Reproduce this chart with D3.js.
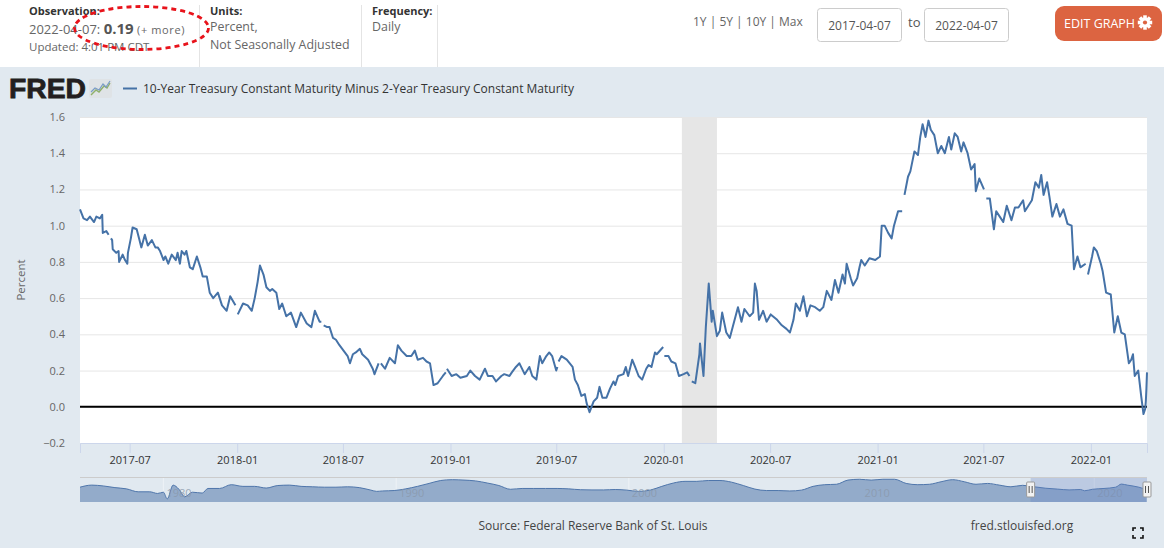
<!DOCTYPE html>
<html>
<head>
<meta charset="utf-8">
<script src="https://cdn.jsdelivr.net/npm/d3@7"></script>
<style>
body { margin: 0; background: #e1e9f0; }
svg { display: block; font-family: "Open Sans", sans-serif; }
</style>
</head>
<body>
<script>
// daily series, read off the chart roughly once a week (null = market holiday gap)
const obsDates = [
"2017-04-07","2017-04-13","2017-04-19","2017-04-24",
"2017-05-01","2017-05-05","2017-05-11","2017-05-15","2017-05-16","2017-05-22","2017-05-26","2017-05-29","2017-05-30",
"2017-06-01","2017-06-02","2017-06-08","2017-06-12","2017-06-13","2017-06-19","2017-06-23","2017-06-27","2017-06-28",
"2017-07-03","2017-07-06","2017-07-13","2017-07-17","2017-07-21","2017-07-27",
"2017-08-01","2017-08-08","2017-08-14","2017-08-18","2017-08-22","2017-08-28","2017-08-31",
"2017-09-05","2017-09-11","2017-09-18","2017-09-21","2017-09-25","2017-09-28",
"2017-10-03","2017-10-06","2017-10-12","2017-10-17","2017-10-24","2017-10-30",
"2017-11-03","2017-11-10","2017-11-15","2017-11-21","2017-11-29",
"2017-12-06","2017-12-14","2017-12-20","2017-12-29",
"2018-01-01","2018-01-02","2018-01-11","2018-01-19","2018-01-26","2018-01-31",
"2018-02-05","2018-02-09","2018-02-15","2018-02-20","2018-02-26",
"2018-03-02","2018-03-09","2018-03-14","2018-03-19","2018-03-26",
"2018-04-03","2018-04-12","2018-04-20","2018-04-30",
"2018-05-08","2018-05-14","2018-05-22","2018-05-25","2018-05-28","2018-05-29",
"2018-06-04","2018-06-08","2018-06-14","2018-06-19","2018-06-25",
"2018-07-02","2018-07-09","2018-07-13","2018-07-18","2018-07-23","2018-07-30",
"2018-08-03","2018-08-13","2018-08-21","2018-08-24","2018-08-31",
"2018-09-03","2018-09-04","2018-09-11","2018-09-19","2018-09-28",
"2018-10-03","2018-10-09","2018-10-18","2018-10-26",
"2018-11-01","2018-11-06","2018-11-15","2018-11-21","2018-11-27",
"2018-12-03","2018-12-10","2018-12-19","2018-12-24","2018-12-25","2018-12-26",
"2019-01-03","2019-01-11","2019-01-18","2019-01-29",
"2019-02-04","2019-02-12","2019-02-20",
"2019-03-01","2019-03-06","2019-03-14","2019-03-20","2019-03-29",
"2019-04-03","2019-04-12","2019-04-16","2019-04-23","2019-04-29",
"2019-05-08","2019-05-16","2019-05-21","2019-05-28",
"2019-06-03","2019-06-07","2019-06-14","2019-06-19","2019-06-24",
"2019-07-01","2019-07-03","2019-07-04","2019-07-05","2019-07-10","2019-07-19","2019-07-29",
"2019-08-02","2019-08-07","2019-08-13","2019-08-19","2019-08-22","2019-08-27",
"2019-09-03","2019-09-09","2019-09-13","2019-09-18","2019-09-25",
"2019-10-01","2019-10-07","2019-10-10","2019-10-15","2019-10-24","2019-10-28",
"2019-11-01","2019-11-08","2019-11-13","2019-11-19","2019-11-25",
"2019-12-02","2019-12-06","2019-12-11","2019-12-17","2019-12-20","2019-12-31",
"2020-01-01","2020-01-02","2020-01-09","2020-01-14","2020-01-21","2020-01-27",
"2020-02-04","2020-02-10","2020-02-14","2020-02-17","2020-02-18","2020-02-24",
"2020-03-02","2020-03-03","2020-03-09","2020-03-13","2020-03-18","2020-03-23","2020-03-25",
"2020-04-01","2020-04-06","2020-04-10","2020-04-17","2020-04-23","2020-04-28",
"2020-05-07","2020-05-13","2020-05-18","2020-05-27",
"2020-06-02","2020-06-05","2020-06-08","2020-06-12","2020-06-19","2020-06-25",
"2020-07-02","2020-07-13","2020-07-21","2020-07-29",
"2020-08-04","2020-08-10","2020-08-14","2020-08-21","2020-08-27",
"2020-09-02","2020-09-08","2020-09-16","2020-09-24","2020-09-30",
"2020-10-06","2020-10-14","2020-10-20","2020-10-26",
"2020-11-02","2020-11-06","2020-11-09","2020-11-16","2020-11-20","2020-11-27",
"2020-12-01","2020-12-04","2020-12-10","2020-12-18","2020-12-28",
"2021-01-05","2021-01-08","2021-01-13","2021-01-19","2021-01-25","2021-01-29",
"2021-02-05","2021-02-12","2021-02-15","2021-02-16","2021-02-22","2021-02-26",
"2021-03-05","2021-03-11","2021-03-15","2021-03-19","2021-03-24","2021-03-29",
"2021-04-02","2021-04-08","2021-04-14","2021-04-20","2021-04-26",
"2021-05-03","2021-05-07","2021-05-13","2021-05-18","2021-05-24","2021-05-28",
"2021-06-04","2021-06-10","2021-06-16","2021-06-18","2021-06-24","2021-07-02",
"2021-07-05","2021-07-06","2021-07-12","2021-07-19","2021-07-23","2021-07-29",
"2021-08-04","2021-08-10","2021-08-18","2021-08-24","2021-08-30",
"2021-09-07","2021-09-10","2021-09-16","2021-09-22","2021-09-28",
"2021-10-04","2021-10-08","2021-10-12","2021-10-18","2021-10-22","2021-10-27",
"2021-11-03","2021-11-09","2021-11-15","2021-11-22","2021-11-29",
"2021-12-03","2021-12-09","2021-12-14","2021-12-23","2021-12-24","2021-12-27",
"2022-01-03","2022-01-06","2022-01-11","2022-01-18","2022-01-21","2022-01-27",
"2022-02-04","2022-02-10","2022-02-16","2022-02-22","2022-02-28",
"2022-03-07","2022-03-11","2022-03-14","2022-03-17","2022-03-23","2022-03-28",
"2022-04-01","2022-04-04","2022-04-05","2022-04-06","2022-04-07"
]
const spread = [
1.09,1.04,1.03,1.05,
1.02,1.05,1.04,1.06,0.96,0.97,0.95,null,0.93,
0.92,0.87,0.85,0.86,0.80,0.84,0.81,0.79,0.85,
0.93,0.99,0.98,0.93,0.88,0.95,
0.89,0.92,0.88,0.88,0.86,0.81,0.83,
0.79,0.84,0.81,0.85,0.79,0.86,
0.84,0.86,0.77,0.76,0.83,0.77,
0.72,0.72,0.63,0.60,0.63,
0.56,0.53,0.61,0.56,
null,0.51,0.57,0.56,0.53,0.60,
0.69,0.78,0.73,0.66,0.64,
0.65,0.63,0.54,0.57,0.50,
0.52,0.44,0.52,0.46,
0.44,0.53,0.47,0.47,null,0.45,
0.44,0.44,0.38,0.37,0.34,
0.31,0.28,0.24,0.29,0.30,0.32,
0.29,0.26,0.21,0.18,0.24,
null,0.24,0.21,0.27,0.24,
0.34,0.31,0.28,0.28,
0.31,0.26,0.27,0.25,0.24,
0.12,0.13,0.17,0.19,null,0.21,
0.17,0.18,0.16,0.17,
0.20,0.17,0.15,
0.21,0.17,0.17,0.14,0.17,
0.18,0.17,0.19,0.22,0.24,
0.18,0.22,0.17,0.15,
0.28,0.24,0.28,0.30,0.28,
0.20,0.22,null,0.25,0.28,0.26,0.22,
0.15,0.12,0.06,0.07,0.02,-0.03,
0.03,0.05,0.11,0.05,0.05,
0.10,0.14,0.12,0.17,0.18,0.22,
0.17,0.26,0.22,0.17,0.15,
0.21,0.23,0.22,0.30,0.29,0.33,
null,0.28,0.28,0.25,0.24,0.17,
0.18,0.19,0.17,null,0.14,0.13,
0.29,0.35,0.17,0.44,0.68,0.47,0.53,
0.39,0.42,0.52,0.41,0.38,0.44,
0.55,0.47,0.54,0.50,
0.52,0.68,0.64,0.48,0.53,0.47,
0.51,0.48,0.45,0.43,
0.41,0.48,0.57,0.53,0.61,
0.50,0.56,0.55,0.53,0.55,
0.64,0.59,0.70,0.63,
0.73,0.68,0.79,0.71,0.67,0.71,
0.77,0.81,0.78,0.82,0.81,
0.83,1.00,1.00,0.96,0.93,1.00,
1.08,1.08,null,1.17,1.27,1.30,
1.41,1.39,1.49,1.56,1.49,1.58,
1.53,1.50,1.40,1.44,1.40,
1.49,1.42,1.51,1.49,1.41,1.46,
1.40,1.31,1.34,1.19,1.26,1.20,
null,1.15,1.15,0.98,1.08,1.05,
1.02,1.11,1.03,1.10,1.10,
1.14,1.08,1.11,1.14,1.24,
1.21,1.28,1.17,1.24,1.16,1.05,
1.12,1.05,1.09,1.01,1.00,
0.76,0.83,0.77,0.79,null,0.73,
0.83,0.88,0.86,0.79,0.75,0.63,
0.62,0.41,0.50,0.41,0.40,
0.24,0.26,0.29,0.17,0.20,0.06,
-0.04,-0.01,0.03,0.10,0.19
]

const xTicks = ["2017-07","2018-01","2018-07","2019-01","2019-07","2020-01","2020-07","2021-01","2021-07","2022-01"]
const yTicks = [-0.2, 0.0, 0.2, 0.4, 0.6, 0.8, 1.0, 1.2, 1.4, 1.6]
const recession = ["2020-02-01", "2020-04-01"]
const range = ["2017-04-07", "2022-04-07"]

// navigator: full history of the series, coarse
const navDates = [
"1976-06","1976-12","1977-06","1977-12","1978-06","1978-12","1979-06","1979-10","1980-01","1980-03","1980-06","1980-09","1980-12",
"1981-04","1981-09","1981-12","1982-06","1982-12","1983-06","1983-12","1984-06","1984-12","1985-06","1985-12",
"1986-06","1986-12","1987-06","1987-12","1988-06","1988-12","1989-03","1989-06","1989-12",
"1990-06","1990-12","1991-06","1991-12","1992-06","1992-12","1993-06","1993-12","1994-06","1994-12",
"1995-06","1995-12","1996-06","1996-12","1997-06","1997-12","1998-06","1998-12","1999-06","1999-12",
"2000-06","2000-12","2001-06","2001-12","2002-06","2002-12","2003-06","2003-12","2004-06","2004-12",
"2005-06","2005-12","2006-06","2006-12","2007-06","2007-12","2008-06","2008-12","2009-06","2009-12",
"2010-06","2010-12","2011-06","2011-12","2012-06","2012-12","2013-06","2013-12","2014-06","2014-12",
"2015-06","2015-12","2016-06","2016-12","2017-06","2017-12","2018-06","2018-12","2019-06","2019-08","2019-12",
"2020-06","2020-12","2021-03","2021-06","2021-12","2022-04"
]
const navSpread = [
0.80,1.30,1.10,0.70,0.40,-0.30,-0.30,-0.70,-0.40,-2.00,1.30,0.30,-1.50,
-0.40,-0.60,0.50,0.50,1.40,1.00,1.00,0.60,1.20,1.30,1.00,
0.90,0.80,0.80,0.90,0.70,0.10,-0.20,-0.10,0.00,
0.40,1.00,1.70,2.40,2.60,2.50,2.30,1.80,1.20,0.30,
0.50,0.50,0.50,0.50,0.40,0.20,0.15,0.15,0.25,0.10,
-0.20,0.10,1.00,1.80,2.20,2.20,2.40,2.40,2.00,1.20,
0.35,0.00,0.00,-0.10,0.10,1.00,1.40,1.50,2.50,2.70,
2.50,2.70,2.70,1.70,1.40,1.50,2.10,2.60,2.10,1.50,
1.70,1.30,0.90,1.25,0.90,0.55,0.35,0.15,0.25,-0.05,0.30,
0.50,0.80,1.55,1.30,0.80,0.19
]
const navYears = ["1980", "1990", "2000", "2010", "2020"]

let W = 1164, H = 548
let plot = { left: 80, right: 1147, top: 117, bottom: 443 }
let nav = { top: 477, bottom: 502 }
let blue = "#4572a7"

let parseDay = d3.timeParse("%Y-%m-%d"),
parseMonth = d3.timeParse("%Y-%m"),
parseYear = d3.timeParse("%Y")

let svg = d3.select("body").append("svg")
    .attr("width", W)
    .attr("height", H)

// header strip
svg.append("rect").attr("width", W).attr("height", 67).attr("fill", "#fff")
svg.append("rect").attr("y", 67).attr("width", W).attr("height", H - 67).attr("fill", "#e1e9f0")

let head = svg.append("g").attr("fill", "#666").style("font-size", "13px")
;[199.5, 361.5, 437.5].forEach(function (x) {
    head.append("line").attr("x1", x).attr("x2", x).attr("y1", 5).attr("y2", 67)
        .attr("stroke", "#e4e4e4")
})
head.append("text").attr("x", 29).attr("y", 15).attr("fill", "#333")
    .style("font-weight", "bold").style("font-size", "11px").text("Observation:")
let obs = head.append("text").attr("x", 29).attr("y", 34)
obs.append("tspan").text("2022-04-07: ")
obs.append("tspan").style("font-weight", "bold").style("font-size", "15px").attr("fill", "#555").text("0.19")
obs.append("tspan").style("font-size", "11px").style("letter-spacing", "0.6px").text(" (+ more)")
head.append("text").attr("x", 29).attr("y", 51).style("font-size", "11.5px").text("Updated: 4:01 PM CDT")

head.append("text").attr("x", 210).attr("y", 15).attr("fill", "#333")
    .style("font-weight", "bold").style("font-size", "11px").text("Units:")
head.append("text").attr("x", 210).attr("y", 31).style("font-size", "12.4px").text("Percent,")
head.append("text").attr("x", 210).attr("y", 49).style("font-size", "12.4px").text("Not Seasonally Adjusted")
head.append("text").attr("x", 372).attr("y", 15).attr("fill", "#333")
    .style("font-weight", "bold").style("font-size", "11px").text("Frequency:")
head.append("text").attr("x", 372).attr("y", 31).style("font-size", "12.4px").text("Daily")

// red dotted annotation
svg.append("ellipse")
    .attr("cx", 141.5).attr("cy", 28).attr("rx", 67).attr("ry", 21.5)
    .attr("fill", "none").attr("stroke", "#e8131b").attr("stroke-width", 2.8)
    .attr("stroke-dasharray", "5,4")

// range controls
head.append("text").attr("x", 693).attr("y", 26).style("font-size", "12px").text("1Y | 5Y | 10Y | Max")
range.forEach(function (d, i) {
    let bx = 817.5 + i * 107
    head.append("rect").attr("x", bx).attr("y", 8.5).attr("width", 84).attr("height", 33)
        .attr("rx", 3).attr("fill", "#fff").attr("stroke", "#ccc")
    head.append("text").attr("x", bx + 42).attr("y", 29.5).attr("text-anchor", "middle")
        .attr("fill", "#555").style("font-size", "12px").text(d)
})
head.append("text").attr("x", 908).attr("y", 27).attr("fill", "#555").text("to")

let btn = svg.append("g")
btn.append("rect").attr("x", 1055).attr("y", 6).attr("width", 107).attr("height", 35)
    .attr("rx", 9).attr("fill", "#dc6441")
btn.append("text").attr("x", 1064).attr("y", 27.5).attr("fill", "#fff")
    .style("font-size", "12.5px").text("EDIT GRAPH")
let gear = btn.append("g").attr("transform", "translate(1145,22.5)")
d3.range(4).forEach(function (i) {
    gear.append("rect").attr("x", -1.8).attr("y", -7.2).attr("width", 3.6).attr("height", 14.4)
        .attr("fill", "#fff").attr("transform", "rotate(" + i * 45 + ")")
})
gear.append("circle").attr("r", 5).attr("fill", "#fff")
gear.append("circle").attr("r", 2.1).attr("fill", "#dc6441")

// FRED logo + legend
svg.append("text").attr("x", 9).attr("y", 98)
    .attr("textLength", 77).attr("lengthAdjust", "spacingAndGlyphs")
    .style("font-family", "'Liberation Sans', Arial, sans-serif")
    .style("font-weight", "bold").style("font-size", "27px")
    .attr("fill", "#231f20").attr("stroke", "#231f20").attr("stroke-width", 0.8)
    .text("FRED")
let icon = svg.append("g").attr("transform", "translate(89,79)")
icon.append("rect").attr("width", 23).attr("height", 19).attr("rx", 2).attr("fill", "#dfe3e6")
icon.append("path").attr("d", "M2,16 L7,11 L10,13 L15,7 L18,9 L21,4")
    .attr("fill", "none").attr("stroke", "#8fb06a").attr("stroke-width", 1.4)
icon.append("path").attr("d", "M2,13 L6,9 L10,11 L14,5 L17,8 L21,2")
    .attr("fill", "none").attr("stroke", "#7a9cc6").attr("stroke-width", 1.2)

svg.append("line").attr("x1", 123).attr("x2", 137).attr("y1", 88.5).attr("y2", 88.5)
    .attr("stroke", blue).attr("stroke-width", 2)
svg.append("text").attr("x", 143).attr("y", 92.5).attr("fill", "#333").style("font-size", "12px")
    .text("10-Year Treasury Constant Maturity Minus 2-Year Treasury Constant Maturity")

// scales
let x = d3.scaleTime()
    .domain(range.map(parseDay))
    .range([plot.left, plot.right])
let y = d3.scaleLinear()
    .domain([yTicks[0], yTicks[yTicks.length - 1]])
    .range([plot.bottom, plot.top])

let data = obsDates.map(function (d, i) { return { date: parseDay(d), value: spread[i] } })

// plot area
svg.append("rect")
    .attr("x", plot.left).attr("y", plot.top)
    .attr("width", plot.right - plot.left).attr("height", plot.bottom - plot.top)
    .attr("fill", "#fff")

let grid = svg.append("g")
    .attr("transform", "translate(" + plot.left + ",0)")
    .call(d3.axisLeft(y).tickValues(yTicks).tickSize(-(plot.right - plot.left)).tickFormat(""))
grid.select(".domain").remove()
grid.selectAll("line").attr("stroke", "#e6e6e6")

svg.append("rect")
    .attr("x", x(parseDay(recession[0])))
    .attr("width", x(parseDay(recession[1])) - x(parseDay(recession[0])))
    .attr("y", plot.top).attr("height", plot.bottom - plot.top)
    .attr("fill", "#e6e6e6")

let yAxis = svg.append("g")
    .attr("transform", "translate(" + plot.left + ",0)")
    .call(d3.axisLeft(y).tickValues(yTicks).tickSize(0).tickPadding(15).tickFormat(d3.format(".1f")))
yAxis.select(".domain").remove()
yAxis.selectAll("text").attr("fill", "#666").style("font-size", "11px").style("font-family", "'Open Sans', sans-serif")

let xAxis = svg.append("g")
    .attr("transform", "translate(0," + plot.bottom + ")")
    .call(d3.axisBottom(x).tickValues(xTicks.map(parseMonth)).tickSize(10).tickPadding(3)
        .tickFormat(d3.timeFormat("%Y-%m")))
xAxis.select(".domain").attr("stroke", "#ccd6eb")
xAxis.selectAll("line").attr("stroke", "#ccd6eb")
xAxis.selectAll("text").attr("fill", "#333").style("font-size", "11px").style("font-family", "'Open Sans', sans-serif")

svg.append("text")
    .attr("transform", "translate(25,280) rotate(-90)")
    .attr("text-anchor", "middle").attr("fill", "#666").style("font-size", "11.5px")
    .text("Percent")

// zero line
svg.append("line")
    .attr("x1", plot.left).attr("x2", plot.right)
    .attr("y1", y(0)).attr("y2", y(0))
    .attr("stroke", "#000").attr("stroke-width", 2)

// series
let line = d3.line()
    .defined(function (d) { return d.value != null })
    .x(function (d) { return x(d.date) })
    .y(function (d) { return y(d.value) })
svg.append("path")
    .datum(data)
    .attr("d", line)
    .attr("fill", "none")
    .attr("stroke", blue)
    .attr("stroke-width", 2)
    .attr("stroke-linejoin", "round")

// navigator
let navData = navDates.map(function (d, i) { return { date: parseMonth(d), value: navSpread[i] } })
let nx = d3.scaleTime()
    .domain([navData[0].date, parseDay(range[1])])
    .range([plot.left, plot.right])
let ny = d3.scaleLinear().domain([-2.5, 3.0]).range([nav.bottom - 1, nav.top + 1])

let navG = svg.append("g")
navYears.forEach(function (yr) {
    navG.append("line")
        .attr("x1", nx(parseYear(yr))).attr("x2", nx(parseYear(yr)))
        .attr("y1", nav.top).attr("y2", nav.bottom)
        .attr("stroke", "#eef2f6")
})
navG.append("path")
    .datum(navData)
    .attr("d", d3.area()
        .x(function (d) { return nx(d.date) })
        .y0(nav.bottom)
        .y1(function (d) { return ny(d.value) })
        .curve(d3.curveMonotoneX))
    .attr("fill", "#93abca")
navG.append("path")
    .datum(navData)
    .attr("d", d3.line()
        .x(function (d) { return nx(d.date) })
        .y(function (d) { return ny(d.value) })
        .curve(d3.curveMonotoneX))
    .attr("fill", "none").attr("stroke", "#4f76ab").attr("stroke-width", 1)
navYears.forEach(function (yr) {
    navG.append("text")
        .attr("x", nx(parseYear(yr)) + 3).attr("y", 497)
        .attr("fill", "#8a98aa").attr("fill-opacity", 0.8).style("font-size", "11px")
        .text(yr)
})
let sel0 = nx(parseDay(range[0])), sel1 = nx(parseDay(range[1]))
navG.append("rect")
    .attr("x", sel0).attr("y", nav.top)
    .attr("width", sel1 - sel0).attr("height", nav.bottom - nav.top)
    .attr("fill", "rgba(102,133,194,0.3)")
navG.append("line")
    .attr("x1", plot.left).attr("x2", plot.right).attr("y1", nav.top + 0.5).attr("y2", nav.top + 0.5)
    .attr("stroke", "#cccccc")
;[sel0, sel1].forEach(function (hx) {
    navG.append("rect")
        .attr("x", hx - 4).attr("y", 482).attr("width", 8).attr("height", 15)
        .attr("rx", 1).attr("fill", "#f2f2f2").attr("stroke", "#999")
    ;[-1.5, 1.5].forEach(function (o) {
        navG.append("line")
            .attr("x1", hx + o).attr("x2", hx + o).attr("y1", 486).attr("y2", 493)
            .attr("stroke", "#555")
    })
})

// footer
svg.append("text").attr("x", 593).attr("y", 530).attr("text-anchor", "middle")
    .attr("fill", "#444").style("font-size", "12px").text("Source: Federal Reserve Bank of St. Louis")
svg.append("text").attr("x", 1022).attr("y", 530).attr("text-anchor", "middle")
    .attr("fill", "#444").style("font-size", "12px").text("fred.stlouisfed.org")
let fs = svg.append("g").attr("transform", "translate(1138,533)")
    .attr("fill", "none").attr("stroke", "#111").attr("stroke-width", 1.6)
fs.append("path").attr("d", "M-5,-2 V-5 H-2 M2,-5 H5 V-2 M5,2 V5 H2 M-2,5 H-5 V2")
</script>
</body>
</html>
